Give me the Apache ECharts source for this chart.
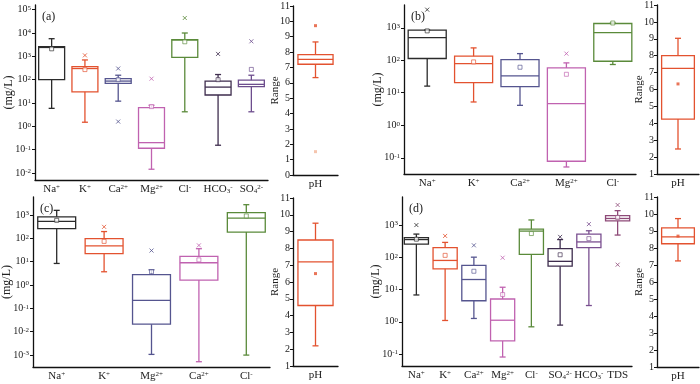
<!DOCTYPE html>
<html>
<head>
<meta charset="utf-8">
<script src="https://cdn.jsdelivr.net/npm/echarts@6/dist/echarts.min.js"></script>
<style>
html, body { margin: 0; padding: 0; background: #fff; }
#chart { width: 700px; height: 384px; }
</style>
</head>
<body>
<div id="chart"></div>
<script>
// box stats are [min, Q1, median, Q3, max], mg/L
var aCats = ['Na{p|+}', 'K{p|+}', 'Ca{p|2+}', 'Mg{p|2+}', 'Cl{p|-}', 'HCO{b|3}{p|-}', 'SO{b|4}{p|2-}']
var aBox = [[5.9, 100, 2400, 2600, 5700], [1.5, 30, 300, 360, 700], [12, 69, 87, 110, 155], [0.0145, 0.115, 0.2, 6.3, 8],
    [4.2, 910, 5000, 5200, 10000], [0.155, 22, 48, 87, 166], [4.2, 50, 63, 95, 155]]
var aMean = [2100, 270, 100, 7, 4200, 100, 275]
var aOut = [[1, 1100], [2, 300], [2, 1.6], [3, 110], [4, 44000], [5, 1270], [6, 4400]]
var aPh = [6.34, 7.21, 7.53, 7.84, 8.66]
var aPhOut = [9.72, 1.52]

var bCats = ['Na{p|+}', 'K{p|+}', 'Ca{p|2+}', 'Mg{p|2+}', 'Cl{p|-}']
var bBox = [[16, 113, 500, 840, 850], [5.2, 20.6, 79, 133, 240], [4.1, 15.5, 33, 105, 160], [0.052, 0.078, 4.6, 58, 83],
    [74, 93, 710, 1350, 1400]]
var bMean = [800, 89, 61, 37, 1400]
var bOut = [[0, 3600], [3, 160]]
var bPh = [2.48, 4.25, 7.25, 8.0, 9.03]
var bPhMean = 6.33

var cCats = ['Na{p|+}', 'K{p|+}', 'Mg{p|2+}', 'Ca{p|2+}', 'Cl{p|-}']
var cBox = [[8.4, 263, 530, 830, 1580], [3.7, 22, 48, 98, 195], [0.00107, 0.021, 0.22, 2.8, 4.5], [0.00052, 1.63, 9, 17, 36],
    [0.001, 186, 740, 1270, 2760]]
var cMean = [590, 74, 3.7, 12, 910]
var cOut = [[1, 310], [2, 30], [3, 50]]
var cPh = [2.2, 4.6, 7.2, 8.5, 9.5]
var cPhMean = 6.5

var dCats = ['Na{p|+}', 'K{p|+}', 'Ca{p|2+}', 'Mg{p|2+}', 'Cl{p|-}', 'SO{b|4}{p|2-}', 'HCO{b|3}{p|-}', 'TDS']
var dBox = [[6.8, 255, 355, 410, 525], [1.1, 44, 80, 200, 290], [1.27, 4.5, 20.5, 56, 101], [0.081, 0.255, 1.12, 5.1, 11.8],
    [0.7, 124, 650, 750, 1440], [0.79, 53, 75, 186, 355], [3.2, 200, 300, 525, 665], [490, 1350, 1600, 1950, 2800]]
var dMean = [365, 115, 37, 7, 545, 120, 380, 1730]
var dOut = [[0, 1000], [1, 460], [2, 235], [3, 97], [5, 430], [6, 1070], [7, 4200], [7, 59]]
var dPh = [7.24, 8.25, 8.65, 9.18, 9.73]
var dPhMean = 8.7

var black = '#2b2b2b', red = '#e3522f', blue = '#55558f', pink = '#c062b0', green = '#5a8a3a'
var aColors = [black, red, blue, pink, green, '#3e2d4e', '#6d4d8d']
var bColors = [black, red, blue, pink, green]
var cColors = [black, red, blue, pink, green]
var dColors = [black, red, blue, pink, green, '#3e2d4e', '#7a4f90', '#8e4a78']

var serif = '"Liberation Serif", "Times New Roman", serif'
var rich = {
    p: { fontSize: 7, verticalAlign: 'top', fontFamily: serif, color: '#222' },
    b: { fontSize: 7, verticalAlign: 'bottom', fontFamily: serif, color: '#222' }
}

var panels = [
    { tag: '(a)', cats: aCats, box: aBox, mean: aMean, out: aOut, colors: aColors, lo: -2.3, hi: 5.2, dec: [-2, 5], ratio: 0.78,
        grid: { left: 35, top: 5, width: 233, height: 175 }, phGrid: { left: 293, top: 6, width: 45, height: 169 },
        ph: aPh, phMin: 0, phMean: null, phOut: aPhOut },
    { tag: '(b)', cats: bCats, box: bBox, mean: bMean, out: bOut, colors: bColors, lo: -1.5, hi: 3.7, dec: [-1, 3], ratio: 0.82,
        grid: { left: 404, top: 5, width: 232, height: 169 }, phGrid: { left: 657, top: 5, width: 42, height: 169 },
        ph: bPh, phMin: 1, phMean: bPhMean, phOut: [] },
    { tag: '(c)', cats: cCats, box: cBox, mean: cMean, out: cOut, colors: cColors, lo: -3.51, hi: 3.77, dec: [-3, 3], ratio: 0.8,
        grid: { left: 33, top: 197, width: 237, height: 170 }, phGrid: { left: 293, top: 198, width: 45, height: 168 },
        ph: cPh, phMin: 1, phMean: cPhMean, phOut: [] },
    { tag: '(d)', cats: dCats, box: dBox, mean: dMean, out: dOut, colors: dColors, lo: -1.37, hi: 3.87, dec: [-1, 3], ratio: 0.84,
        grid: { left: 402, top: 197, width: 230, height: 169 }, phGrid: { left: 657, top: 197, width: 42, height: 170 },
        ph: dPh, phMin: 1, phMean: dPhMean, phOut: [] }
]

var axisLine = { lineStyle: { color: '#111', width: 1.3 } }
var axisTick = { length: 3, lineStyle: { color: '#111', width: 1 } }

function boxItem(colors, ratio) {
    return function (params, api) {
        var i = api.value(0)
        var p0 = api.coord([i, api.value(1)]), p1 = api.coord([i, api.value(2)]), p2 = api.coord([i, api.value(3)])
        var p3 = api.coord([i, api.value(4)]), p4 = api.coord([i, api.value(5)])
        var w = api.size([1, 1], [i, 1])[0] * ratio
        var x = p0[0], c = colors[i]
        var st = { stroke: c, lineWidth: 1.3 }
        return {
            type: 'group',
            children: [
                { type: 'line', shape: { x1: x, y1: p0[1], x2: x, y2: p1[1] }, style: st },
                { type: 'line', shape: { x1: x, y1: p3[1], x2: x, y2: p4[1] }, style: st },
                { type: 'line', shape: { x1: x - 3, y1: p0[1], x2: x + 3, y2: p0[1] }, style: st },
                { type: 'line', shape: { x1: x - 3, y1: p4[1], x2: x + 3, y2: p4[1] }, style: st },
                { type: 'rect', shape: { x: x - w / 2, y: p3[1], width: w, height: p1[1] - p3[1] },
                    style: { stroke: c, lineWidth: 1.3, fill: 'transparent' } },
                { type: 'line', shape: { x1: x - w / 2, y1: p2[1], x2: x + w / 2, y2: p2[1] }, style: st }
            ]
        }
    }
}

var grid = [], xAxis = [], yAxis = [], series = [], title = []
panels.forEach(function (pn, k) {
    var g = 2 * k, h = 2 * k + 1
    grid.push(Object.assign({ outerBoundsMode: 'none', containLabel: false }, pn.grid))
    grid.push(Object.assign({ outerBoundsMode: 'none', containLabel: false }, pn.phGrid))
    title.push({ text: pn.tag, left: pn.grid.left + 2, top: pn.grid.top + 1,
        textStyle: { fontFamily: serif, fontSize: 12, fontWeight: 'normal', color: '#222' } })

    var decs = []
    for (var e = pn.dec[0]; e <= pn.dec[1]; e++) decs.push(Math.pow(10, e))

    xAxis.push({ type: 'category', gridIndex: g, data: pn.cats, axisLine: axisLine,
        axisTick: Object.assign({ alignWithLabel: true }, axisTick),
        axisLabel: { fontFamily: serif, fontSize: 11, color: '#222', margin: 4, interval: 0, rich: rich } })
    yAxis.push({ type: 'log', logBase: 10, gridIndex: g, min: Math.pow(10, pn.lo), max: Math.pow(10, pn.hi),
        name: '(mg/L)', nameLocation: 'middle', nameGap: 20, nameMoveOverlap: false,
        nameTextStyle: { fontFamily: serif, fontSize: 12, color: '#222' },
        axisLine: Object.assign({ show: true }, axisLine), axisTick: Object.assign({ show: true, customValues: decs }, axisTick),
        splitLine: { show: false },
        axisLabel: { customValues: decs, fontFamily: serif, fontSize: 10, color: '#222', margin: 4, rich: rich,
            formatter: function (v) { return '10{p|' + Math.round(Math.log(v) / Math.LN10) + '}' } } })

    xAxis.push({ type: 'category', gridIndex: h, data: ['pH'], axisLine: axisLine,
        axisTick: Object.assign({ alignWithLabel: true }, axisTick),
        axisLabel: { fontFamily: serif, fontSize: 11, color: '#222', margin: 4 } })
    yAxis.push({ type: 'value', gridIndex: h, min: pn.phMin, max: 11, interval: 1,
        name: 'Range', nameLocation: 'middle', nameGap: 12, nameMoveOverlap: false,
        nameTextStyle: { fontFamily: serif, fontSize: 11, color: '#222' },
        axisLine: Object.assign({ show: true }, axisLine), axisTick: Object.assign({ show: true }, axisTick),
        splitLine: { show: false },
        axisLabel: { fontFamily: serif, fontSize: 10, color: '#222', margin: 3 } })

    series.push({ type: 'custom', xAxisIndex: g, yAxisIndex: g, renderItem: boxItem(pn.colors, pn.ratio),
        encode: { x: 0, y: [1, 2, 3, 4, 5] },
        data: pn.box.map(function (b, i) { return [i].concat(b) }) })
    series.push({ type: 'scatter', xAxisIndex: g, yAxisIndex: g, symbol: 'rect', symbolSize: 4,
        data: pn.mean.map(function (v, i) {
            return { value: [i, v], itemStyle: { color: '#fff', borderColor: pn.colors[i], borderWidth: 0.9, opacity: 0.75 } }
        }) })
    series.push({ type: 'scatter', xAxisIndex: g, yAxisIndex: g, symbol: 'path://M0 0L10 10M10 0L0 10', symbolSize: 4,
        data: pn.out.map(function (o) {
            return { value: o, itemStyle: { color: 'rgba(0,0,0,0)', borderColor: pn.colors[o[0]], borderWidth: 1, opacity: 0.8 } }
        }) })

    series.push({ type: 'custom', xAxisIndex: h, yAxisIndex: h, renderItem: boxItem([red], 0.78),
        encode: { x: 0, y: [1, 2, 3, 4, 5] }, data: [[0].concat(pn.ph)] })
    if (pn.phMean !== null) {
        series.push({ type: 'scatter', xAxisIndex: h, yAxisIndex: h, symbol: 'rect', symbolSize: 3,
            itemStyle: { color: red }, data: [[0, pn.phMean]] })
    }
    if (pn.phOut.length) {
        series.push({ type: 'scatter', xAxisIndex: h, yAxisIndex: h, symbol: 'rect', symbolSize: 3,
            data: pn.phOut.map(function (v, i) { return { value: [0, v], itemStyle: { color: i ? '#f2b79a' : red } } }) })
    }
})

var option = {
    animation: false,
    backgroundColor: '#fff',
    title: title,
    grid: grid,
    xAxis: xAxis,
    yAxis: yAxis,
    series: series
}
var myChart = echarts.init(document.getElementById('chart'))
myChart.setOption(option)
</script>
</body>
</html>
